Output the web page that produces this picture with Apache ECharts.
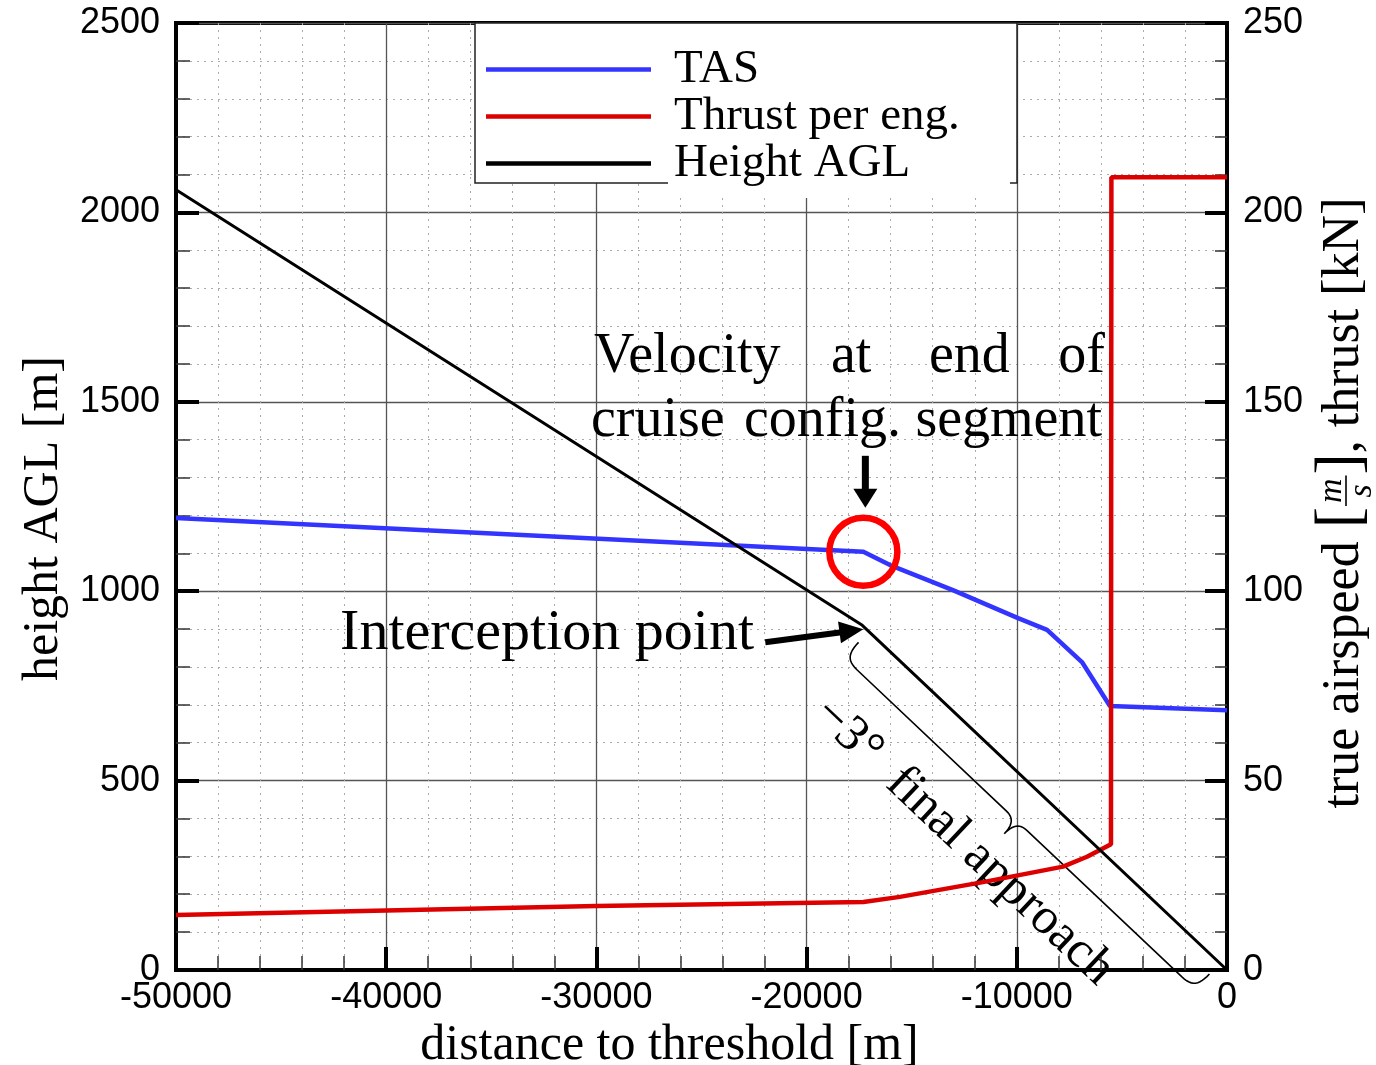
<!DOCTYPE html>
<html>
<head>
<meta charset="utf-8">
<script src="https://cdn.jsdelivr.net/npm/echarts@6/dist/echarts.min.js"></script>
<style>
  html, body { margin: 0; padding: 0; background: #fff; }
  #chart { width: 1376px; height: 1065px; }
</style>
</head>
<body>
<div id="chart"></div>
<script>
// Approach profile: distance to runway threshold [m] vs. speed, thrust and height.

// True airspeed [m/s]
const tasDistance = [-50000, -17300, -16030, -13040, -9940, -8560, -6900, -5570, 0];
const tasValues   = [119.3, 110.4, 106.9, 100.3, 92.9, 89.8, 81.3, 69.7, 68.6];

// Thrust per engine [kN]
const thrustDistance = [-50000, -30000, -17300, -15560, -11610, -7800, -6660, -6040, -5520, -5500, 0];
const thrustValues   = [14.5, 16.9, 17.95, 19.3, 23.2, 27.3, 29.9, 31.7, 33.2, 209.3, 209.3];

// Height above ground level [m]
const heightDistance = [-50000, -17350, 0];
const heightValues   = [2060, 910, 0];

// Axis ranges and tick steps
const distanceTicks = [-50000, -40000, -30000, -20000, -10000, 0];
const heightTicks   = [0, 500, 1000, 1500, 2000, 2500];
const speedTicks    = [0, 50, 100, 150, 200, 250];

const seriesNames = ['TAS', 'Thrust per eng.', 'Height AGL'];

const zip = (xs, ys) => xs.map((x, i) => [x, ys[i]]);

const SERIF = '"Liberation Serif", "DejaVu Serif", serif';
const SANS = '"Liberation Sans", Arial, sans-serif';
const plainNumber = v => String(v);

function axisCommon() {
  return {
    axisLine: { show: true, onZero: false, lineStyle: { color: '#000', width: 4 } },
    axisTick: { show: true, inside: true, length: 23, lineStyle: { color: '#000', width: 4 } },
    minorTick: { show: true, splitNumber: 5, length: 14, lineStyle: { color: '#333', width: 1.5 } },
    axisLabel: { color: '#000', fontFamily: SANS, fontSize: 36, margin: 16, formatter: plainNumber }
  };
}

const chart = echarts.init(document.getElementById('chart'));

const option = {
  animation: false,
  backgroundColor: '#fff',
  grid: {
    left: 176, right: 149, top: 23, bottom: 95,
    containLabel: false, outerBoundsMode: 'none',
    show: true, borderColor: '#000', borderWidth: 4, backgroundColor: 'transparent'
  },
  legend: {
    orient: 'vertical',
    left: 486, top: 46, padding: 0,
    icon: 'path://M0,0 L165,0 L165,4.5 L0,4.5 Z',
    itemWidth: 165, itemHeight: 4.5, itemGap: 0,
    selectedMode: false,
    textStyle: { fontFamily: SERIF, fontSize: 47, color: '#000', lineHeight: 36, padding: [8, 0, 0, 18] },
    data: seriesNames,
    z: 10
  },
  xAxis: Object.assign(axisCommon(), {
    type: 'value',
    min: distanceTicks[0], max: distanceTicks[distanceTicks.length - 1],
    interval: distanceTicks[1] - distanceTicks[0],
    position: 'bottom',
    splitLine: { show: true, lineStyle: { color: '#555', width: 1.3 } },
    minorSplitLine: { show: true, lineStyle: { color: '#aaa', width: 1, type: [2, 5] } },
    axisLabel: { color: '#000', fontFamily: SANS, fontSize: 36, margin: 10, formatter: plainNumber },
    name: 'distance to threshold [m]',
    nameLocation: 'middle', nameGap: 23,
    nameTextStyle: { fontFamily: SERIF, fontSize: 50, color: '#000', padding: [0, 64, 0, 0] }
  }),
  yAxis: [
    Object.assign(axisCommon(), {
      type: 'value',
      min: heightTicks[0], max: heightTicks[heightTicks.length - 1],
      interval: heightTicks[1] - heightTicks[0],
      position: 'left',
      splitLine: { show: true, lineStyle: { color: '#555', width: 1.3 } },
      minorSplitLine: { show: true, lineStyle: { color: '#aaa', width: 1, type: [2, 5] } },
      name: 'height AGL [m]',
      nameLocation: 'middle', nameGap: 96, nameRotate: 90,
      nameTextStyle: { fontFamily: SERIF, fontSize: 50, color: '#000', padding: [0, 44, 0, 0] }
    }),
    Object.assign(axisCommon(), {
      type: 'value',
      min: speedTicks[0], max: speedTicks[speedTicks.length - 1],
      interval: speedTicks[1] - speedTicks[0],
      position: 'right',
      axisTick: { show: true, inside: true, length: 22, lineStyle: { color: '#000', width: 4 } },
      minorTick: { show: true, splitNumber: 5, length: 12, lineStyle: { color: '#333', width: 1.5 } },
      splitLine: { show: false },
      minorSplitLine: { show: false }
    })
  ],
  series: [
    {
      name: seriesNames[0], type: 'line', yAxisIndex: 1,
      data: zip(tasDistance, tasValues),
      symbol: 'none', color: '#3434ff',
      lineStyle: { color: '#3434ff', width: 4.5 }
    },
    {
      name: seriesNames[1], type: 'line', yAxisIndex: 1,
      data: zip(thrustDistance, thrustValues),
      symbol: 'none', color: '#dd0000',
      lineStyle: { color: '#dd0000', width: 4.5 }
    },
    {
      name: seriesNames[2], type: 'line', yAxisIndex: 0,
      data: zip(heightDistance, heightValues),
      symbol: 'none', color: '#000',
      lineStyle: { color: '#000', width: 3 }
    }
  ]
};

chart.setOption(option);

// ---- annotations, anchored on the data through the axes ----
const P = chart.convertToPixel({ xAxisIndex: 0, yAxisIndex: 0 }, [heightDistance[1], heightValues[1]]);
const E = chart.convertToPixel({ xAxisIndex: 0, yAxisIndex: 0 }, [heightDistance[2], heightValues[2]]);
const C = chart.convertToPixel({ xAxisIndex: 0, yAxisIndex: 1 }, [tasDistance[1], tasValues[1]]);

const ang = Math.atan2(E[1] - P[1], E[0] - P[0]);
const segLen = Math.hypot(E[0] - P[0], E[1] - P[1]);

// curly brace along the final approach segment (local frame: u along the line, v away from it)
function cubicPoints(p0, p1, p2, p3, n) {
  const pts = [];
  for (let i = 1; i <= n; i++) {
    const t = i / n, s = 1 - t;
    pts.push([
      s * s * s * p0[0] + 3 * s * s * t * p1[0] + 3 * s * t * t * p2[0] + t * t * t * p3[0],
      s * s * s * p0[1] + 3 * s * s * t * p1[1] + 3 * s * t * t * p2[1] + t * t * t * p3[1]
    ]);
  }
  return pts;
}
const u0 = 9, u1 = segLen - 10, vh = 15, vm = 36, vt = 54;
const um = (u0 + u1) / 2 - 4;
const bracePts = [[u0, vh]]
  .concat(cubicPoints([u0, vh], [u0, vm - 6], [u0 + 4, vm], [u0 + 18, vm], 12))
  .concat([[um - 14, vm]])
  .concat(cubicPoints([um - 14, vm], [um - 4, vm], [um, vm + 6], [um, vt], 12))
  .concat(cubicPoints([um, vt], [um, vm + 6], [um + 4, vm], [um + 14, vm], 12))
  .concat([[u1 - 18, vm]])
  .concat(cubicPoints([u1 - 18, vm], [u1 - 4, vm], [u1, vm - 6], [u1, vh], 12));

function arrow(tail, tip, shaftW, headL, headW) {
  const dx = tip[0] - tail[0], dy = tip[1] - tail[1];
  const L = Math.hypot(dx, dy), ux = dx / L, uy = dy / L;
  const bx = tip[0] - ux * headL, by = tip[1] - uy * headL;
  return [
    { type: 'line', shape: { x1: tail[0], y1: tail[1], x2: bx + ux * 2, y2: by + uy * 2 },
      style: { stroke: '#000', lineWidth: shaftW }, z: 20 },
    { type: 'polygon',
      shape: { points: [tip, [bx - uy * headW / 2, by + ux * headW / 2], [bx + uy * headW / 2, by - ux * headW / 2]] },
      style: { fill: '#000' }, z: 20 }
  ];
}

function label(text, x, y, align, size) {
  return {
    type: 'text', x: x, y: y, z: 20,
    style: { text: text, fill: '#000', font: `${size || 56}px ${SERIF}`, align: align || 'left', verticalAlign: 'middle' }
  };
}

// right axis title with a stacked m/s fraction, laid out along a rotated baseline
const ctx = document.createElement('canvas').getContext('2d');
const measure = (t, f) => { ctx.font = f; return ctx.measureText(t).width; };
const fs = 52;
const mainFont = `${fs}px ${SERIF}`;
const bigFont = `64px ${SERIF}`;
const fracFont = `italic 34px ${SERIF}`;
const fracW = Math.max(measure('m', fracFont), measure('s', fracFont)) + 6;
const titleParts = [
  { text: 'true airspeed ', font: mainFont, y: -0.33 * fs },
  { text: '[', font: bigFont, y: -21 },
  { frac: true },
  { text: ']', font: bigFont, y: -21 },
  { text: ', thrust [kN]', font: mainFont, y: -0.33 * fs }
];
let cursor = 0;
const titleChildren = [];
titleParts.forEach(p => {
  if (p.frac) {
    const cx = cursor + fracW / 2 + 1;
    titleChildren.push(
      { type: 'text', x: cx, y: -30, style: { text: 'm', font: fracFont, fill: '#000', align: 'center', verticalAlign: 'middle' } },
      { type: 'line', shape: { x1: cursor + 1, y1: -16, x2: cursor + fracW + 1, y2: -16 }, style: { stroke: '#000', lineWidth: 1.6 } },
      { type: 'text', x: cx, y: 0, style: { text: 's', font: fracFont, fill: '#000', align: 'center', verticalAlign: 'middle' } }
    );
    cursor += fracW + 2;
  } else {
    titleChildren.push({ type: 'text', x: cursor, y: p.y, style: { text: p.text, font: p.font, fill: '#000', align: 'left', verticalAlign: 'middle' } });
    cursor += measure(p.text, p.font);
  }
});
const rightTitle = {
  type: 'group',
  x: 1362, y: 503 + cursor / 2, rotation: Math.PI / 2, z: 20,
  children: titleChildren
};

const graphics = [
  // legend frame
  { type: 'rect', shape: { x: 475, y: 23, width: 542, height: 160 },
    style: { fill: '#fff', stroke: '#222', lineWidth: 1.5 }, z: 9 },
  // white backing of the last legend label
  { type: 'rect', shape: { x: 668, y: 176, width: 342, height: 22 },
    style: { fill: '#fff' }, z: 9.5 },
  // highlight of the end of the cruise configuration segment
  { type: 'circle', shape: { cx: C[0], cy: C[1], r: 34 },
    style: { fill: 'none', stroke: '#ff0000', lineWidth: 6.5 }, z: 20 },
  ...arrow([C[0] + 2, C[1] - 96], [C[0] + 2, C[1] - 44], 7, 19, 24),
  ...arrow([P[0] - 97, P[1] + 17], [P[0] + 1, P[1] + 4], 6, 24, 22),
  label('Velocity', 594, 357, 'left'),
  label('at', 831, 357, 'left'),
  label('end', 929, 357, 'left'),
  label('of', 1105, 357, 'right'),
  label('cruise', 591, 421, 'left'),
  label('config.', 744, 421, 'left'),
  label('segment', 1102, 421, 'right'),
  label('Interception point', 754, 634, 'right', 58),
  {
    type: 'group', x: P[0], y: P[1], rotation: -ang, z: 20,
    children: [
      { type: 'polyline', shape: { points: bracePts }, style: { fill: 'none', stroke: '#000', lineWidth: 1.6 } },
      { type: 'text', x: um - 24, y: 88,
        style: { text: '\u22123\u00b0  final approach', font: `51px ${SERIF}`, fill: '#000', align: 'center', verticalAlign: 'middle' } }
    ]
  },
  rightTitle
];

chart.setOption({ graphic: graphics });
</script>
</body>
</html>
